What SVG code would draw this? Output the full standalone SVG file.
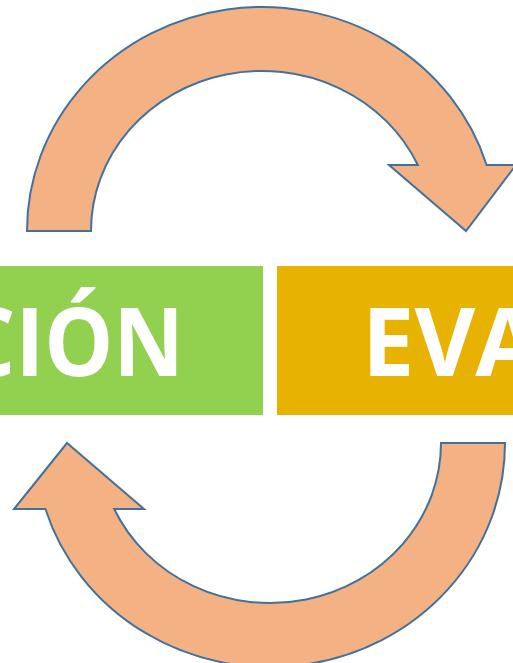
<svg xmlns="http://www.w3.org/2000/svg" width="513" height="663" viewBox="0 0 513 663">
<style>
.arrow{fill:#F4B183;stroke:#41719C;stroke-width:2;stroke-linejoin:miter}
.lbl{font-family:"Open Sans","Liberation Sans",sans-serif;font-weight:bold;font-size:95px;fill:#FFFFFF}
</style>
<rect width="513" height="663" fill="#FFFFFF"/>
<g id="connectors">
<path id="arrow-top" class="arrow" d="M27,231 A235,224 0 0 1 486.6,165 L516,165 L466,231 L389,165 L417.8,165 A171,160 0 0 0 91,231 Z"/>
<path id="arrow-bottom" class="arrow" d="M505,443 A235,224 0 0 1 45.4,509 L14,509 L67,443 L144,509 L114.2,509 A171,160 0 0 0 441,443 Z"/>
</g>
<g id="node-cion">
<rect x="0" y="266" width="263" height="149" fill="#92D050"/>
<text class="lbl" x="184" y="376" text-anchor="end" textLength="224" lengthAdjust="spacingAndGlyphs">CIÓN</text>
</g>
<g id="node-eva">
<rect x="277" y="266" width="240" height="149" fill="#E8B300"/>
<text class="lbl" x="362" y="376" textLength="178" lengthAdjust="spacingAndGlyphs">EVA</text>
</g>
</svg>
